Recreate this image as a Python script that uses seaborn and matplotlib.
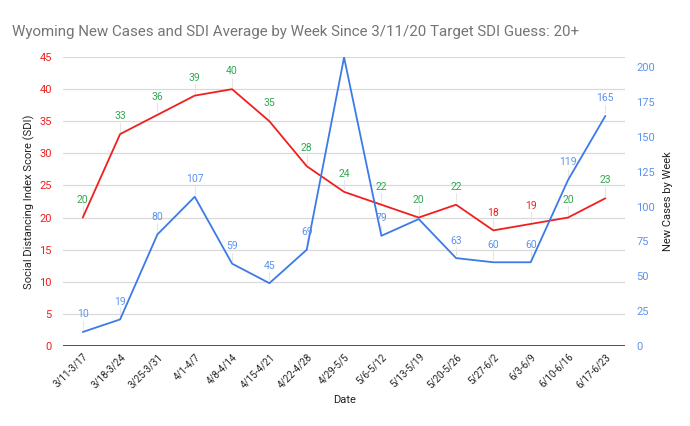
import numpy as np
import pandas as pd
import seaborn as sns
import matplotlib.pyplot as plt

weeks = ['3/11-3/17', '3/18-3/24', '3/25-3/31', '4/1-4/7', '4/8-4/14', '4/15-4/21',
         '4/22-4/28', '4/29-5/5', '5/6-5/12', '5/13-5/19', '5/20-5/26', '5/27-6/2',
         '6/3-6/9', '6/10-6/16', '6/17-6/23']
sdi = [20, 33, 36, 39, 40, 35, 28, 24, 22, 20, 22, 18, 19, 20, 23]
cases = [10, 19, 80, 107, 59, 45, 69, 207, 79, 91, 63, 60, 60, 119, 165]
# labels shown on the chart (None = hidden)
case_labels = [10, 19, 80, 107, 59, 45, 69, None, 79, None, 63, 60, 60, 119, 165]

RED = '#f01f1f'
BLUE = '#3c7ae8'
GREEN = '#34a853'
LBLUE = '#5d93ee'

df = pd.DataFrame({'week': weeks, 'x': range(len(weeks)), 'sdi': sdi, 'cases': cases})

sns.set_style('white')
plt.rcParams['font.family'] = ['Roboto', 'DejaVu Sans']

fig, ax = plt.subplots(figsize=(6.9, 4.26), dpi=100)
fig.subplots_adjust(left=0.0913, right=0.906, top=0.866, bottom=0.188)
ax2 = ax.twinx()

sns.lineplot(data=df, x='x', y='sdi', ax=ax, color=RED, linewidth=1.3)
sns.lineplot(data=df, x='x', y='cases', ax=ax2, color=BLUE, linewidth=1.3)

ax.set_xlim(-0.53, len(weeks) - 0.47)
ax.set_ylim(0, 45)
ax.set_yticks(np.arange(0, 46, 5))
ax2.set_ylim(0, 207.2)
ax2.set_yticks(np.arange(0, 201, 25))

ax.grid(axis='y', color='#d9d9d9', linewidth=0.9)
ax.set_axisbelow(True)
for a in (ax, ax2):
    for s in ['top', 'right', 'left', 'bottom']:
        a.spines[s].set_visible(False)
ax.axhline(0, color='#333333', linewidth=1.2)

ax.set_xticks(range(len(weeks)))
ax.set_xticklabels(weeks, rotation=45, ha='right', rotation_mode='anchor', fontsize=7, color='#222222')
ax.tick_params(axis='x', length=0, pad=4)
ax.tick_params(axis='y', length=0, labelcolor=RED, labelsize=8, pad=8)
ax2.tick_params(axis='y', length=0, labelcolor=LBLUE, labelsize=8, pad=8)

ax.set_xlabel('Date', fontsize=8, color='#222222')
ax.set_ylabel('Social Distancing Index Score (SDI)', fontsize=8, color='#222222', labelpad=3)
ax2.set_ylabel('New Cases by Week', fontsize=8, color='#222222', labelpad=6)

# data labels
for i, v in enumerate(sdi):
    c = RED if i in (11, 12) else GREEN
    ax.plot([i, i], [v + 0.4, v + 1.8], color='#e6e6e6', linewidth=0.8, zorder=1)
    ax.text(i, v + 2.0, str(v), ha='center', va='bottom', fontsize=7.5, color=c)
for i, v in enumerate(case_labels):
    if v is None:
        continue
    y = cases[i]
    ax2.plot([i, i], [y + 2, y + 8], color='#e6e6e6', linewidth=0.8, zorder=1)
    ax2.text(i, y + 9, str(v), ha='center', va='bottom', fontsize=7.5, color=LBLUE)

fig.text(0.017, 0.925, 'Wyoming New Cases and SDI Average by Week Since 3/11/20 Target SDI Guess: 20+',
         fontsize=10.9, color='#757575', ha='left', va='center')

fig.savefig('out.png', dpi=100)
